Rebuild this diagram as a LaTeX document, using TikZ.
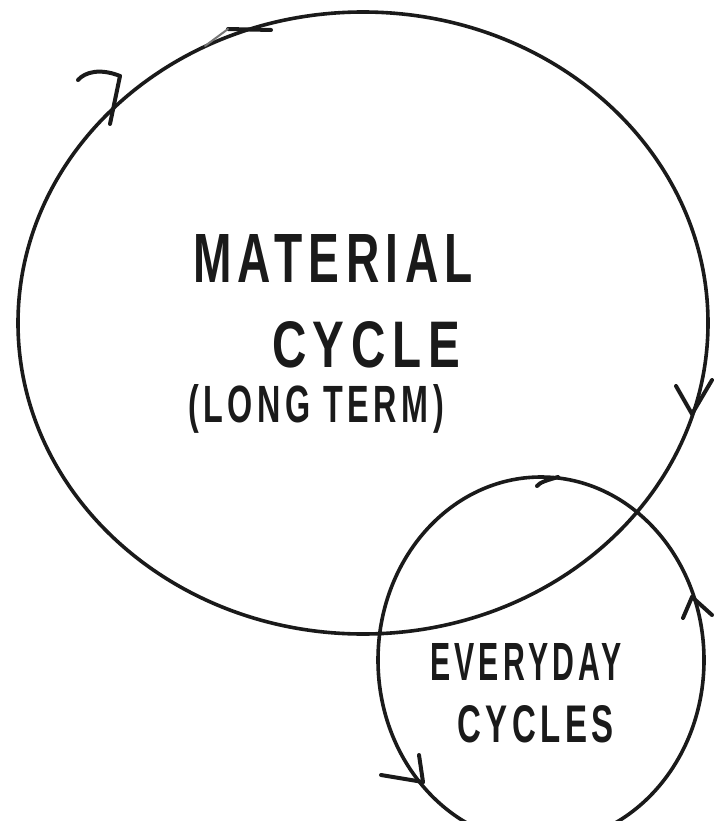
\documentclass[tikz,border=0pt]{standalone}
\usepackage{fontspec}
\usepackage{graphicx}
\setmainfont{Liberation Sans}
\newfontfamily\handfont[LetterSpace=14]{Liberation Sans}
\definecolor{ink}{HTML}{1A1A1A}
\tikzset{
  pen/.style={draw=ink, line width=3.6pt, line cap=round, line join=round},
  tippen/.style={draw=ink, line width=4pt, line cap=round, line join=round},
  lbl/.style={anchor=base west, inner sep=0pt, outer sep=0pt, text=ink, font=\handfont\bfseries}
}
\begin{document}
\begin{tikzpicture}[x=1pt,y=-1pt]
\useasboundingbox (0,0) rectangle (715,821);
% circles
\draw[pen] (363,323) ellipse [x radius=345, y radius=311];
\draw[pen] (541,660) ellipse [x radius=163, y radius=183];
% arrowheads on the big circle
\coordinate (t1) at (120,76);
\draw[tippen] (t1) .. controls (100,68) and (85,72) .. (78,80);
\draw[tippen] (t1) -- (110,124);
\coordinate (t2) at (228,29);
\draw[tippen] (t2) -- (271,30);
\draw[draw=ink!60, line width=2pt, line cap=round] (t2) -- (205,46);
\coordinate (t3) at (692,414);
\draw[tippen] (t3) -- (676,386);
\draw[tippen] (t3) -- (712,380);
% arrowheads on the small circle
\coordinate (t4) at (692,597);
\draw[tippen] (t4) -- (683,618);
\draw[tippen] (t4) -- (712,615);
\coordinate (t5) at (423,782);
\draw[tippen] (t5) -- (381,775);
\draw[tippen] (t5) -- (419,755);
\coordinate (t6) at (558,477);
\draw[tippen] (t6) .. controls (548,480) and (540,482) .. (537,486);
% labels
\node[lbl] (m1) at (193,282) {\resizebox{280pt}{48pt}{MATERIAL}};
\node[lbl] (m2) at (272,367) {\resizebox{188pt}{46pt}{CYCLE}};
\node[lbl] (m3) at (188,422) {\resizebox{256pt}{38pt}{(LONG TERM)}};
\node[lbl] (e1) at (430,680) {\resizebox{192pt}{37pt}{EVERYDAY}};
\node[lbl] (e2) at (457,742) {\resizebox{157pt}{37pt}{CYCLES}};
\end{tikzpicture}
\end{document}
